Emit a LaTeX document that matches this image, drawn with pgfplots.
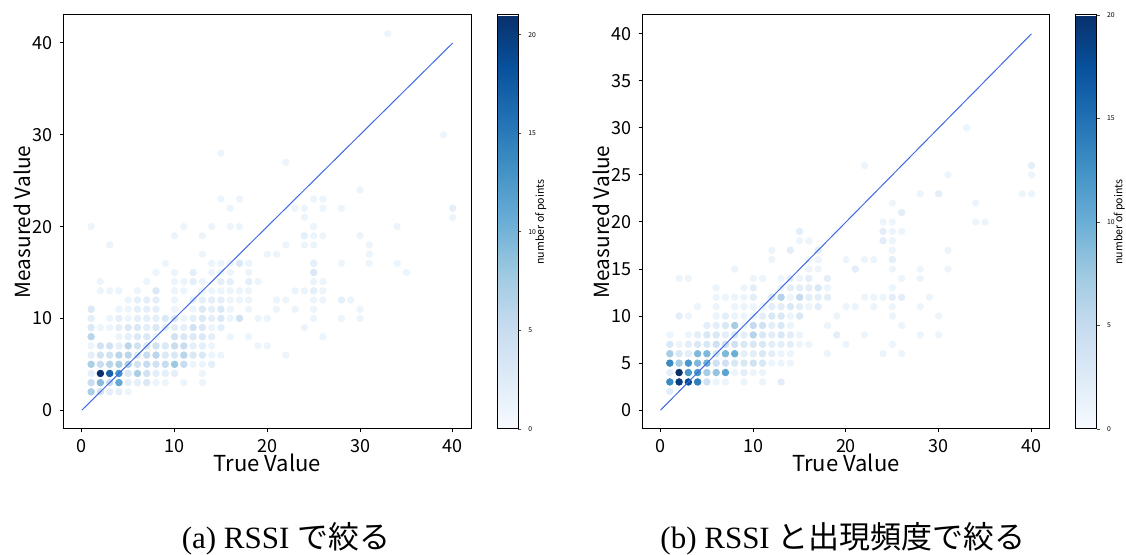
\documentclass[border=0pt]{standalone}
\usepackage{fontspec}
\setmainfont{Liberation Serif}
\newfontfamily\jpsans{Noto Sans CJK JP}
\usepackage{pgfplots}
\usepackage{pgfplotstable}
\pgfplotsset{compat=1.18}

\definecolor{diag}{RGB}{65,105,225}

% matplotlib "Blues"
\pgfplotsset{
  colormap={mplblues}{rgb255=(247,251,255) rgb255=(222,235,247) rgb255=(198,219,239)
    rgb255=(158,202,225) rgb255=(107,174,214) rgb255=(66,146,198) rgb255=(33,113,181)
    rgb255=(8,81,156) rgb255=(8,48,107)},
  box/.style={
    scale only axis, width=204pt, height=207pt,
    anchor=south west,
    xmin=-2, xmax=42,
  },
  hist2d/.style={
    box,
    xtick={0,10,20,30,40},
    tick pos=left, tick align=outside,
    major tick length=1.75pt,
    every tick/.style={black, line width=0.5pt},
    axis line style={black, line width=0.5pt},
    ticklabel style={font=\jpsans\fontsize{9}{10}\selectfont},
    /pgf/number format/assume math mode=true,
    xlabel={True Value}, ylabel={Measured Value},
    every axis x label/.style={at={(axis description cs:0.5,0)}, anchor=center,
      yshift=-17pt, font=\jpsans\fontsize{11}{13}\selectfont},
    every axis y label/.style={at={(axis description cs:0,0.5)}, rotate=90,
      anchor=center, yshift=20.4pt, font=\jpsans\fontsize{10.4}{12}\selectfont},
    colormap name=mplblues,
    point meta min=0,
    colorbar,
    colorbar shift/.style={xshift=13pt},
    colorbar style={
      at={(parent axis.north east)}, anchor=north west,
      scale only axis, width=10.5pt, height=207pt,
      ytick={0,5,10,15,20},
      ytick pos=right, yticklabel pos=right,
      tick align=outside, major tick length=1.5pt,
      every tick/.style={black!70, line width=0.4pt},
      axis line style={black, line width=0.5pt},
      yticklabel style={font=\jpsans\fontsize{3.4}{4}\selectfont},
      /pgf/number format/assume math mode=true,
      ylabel={number of points},
      every axis y label/.style={at={(axis description cs:1,0.5)}, rotate=90,
        anchor=center, yshift=-11.2pt, font=\jpsans\fontsize{5.3}{6}\selectfont},
    },
  },
  cnt/.style={scatter, only marks, mark=*, mark size=1.65pt, point meta=explicit,
    scatter/use mapped color={draw=mapped color, fill=mapped color}},
}

% (a) x y count
\pgfplotstableread{
x y c
1 2 7
2 2 4
3 2 2
4 2 2
5 2 1
1 3 5
2 3 9
3 3 5
4 3 11
5 3 2
6 3 2
7 3 3
8 3 1
9 3 1
11 3 1
13 3 1
1 4 2
2 4 21
3 4 17
4 4 13
5 4 3
6 4 7
7 4 4
8 4 2
9 4 2
10 4 2
13 4 1
1 5 7
2 5 5
3 5 6
4 5 7
5 5 7
6 5 4
7 5 5
8 5 4
9 5 5
10 5 8
11 5 5
12 5 1
13 5 1
14 5 2
1 6 2
2 6 4
3 6 4
4 6 6
5 6 6
6 6 3
7 6 5
8 6 6
9 6 3
10 6 3
11 6 6
12 6 3
13 6 3
14 6 1
15 6 1
22 6 1
1 7 1
2 7 4
3 7 4
4 7 2
5 7 6
6 7 4
7 7 3
8 7 4
9 7 3
10 7 5
11 7 5
12 7 2
13 7 2
14 7 1
19 7 1
20 7 1
1 8 6
4 8 1
5 8 2
6 8 3
7 8 3
8 8 1
10 8 4
11 8 3
12 8 3
13 8 3
14 8 2
16 8 1
18 8 1
26 8 1
1 9 3
2 9 1
3 9 1
4 9 2
5 9 3
6 9 3
7 9 2
8 9 3
9 9 2
10 9 2
11 9 2
12 9 4
13 9 3
14 9 1
15 9 2
24 9 1
1 10 2
3 10 1
4 10 2
5 10 1
6 10 2
7 10 2
8 10 2
9 10 3
10 10 3
11 10 1
12 10 2
13 10 3
14 10 2
15 10 3
16 10 1
17 10 4
19 10 1
20 10 1
25 10 1
28 10 1
30 10 1
1 11 3
4 11 1
5 11 1
6 11 2
7 11 2
8 11 2
10 11 1
12 11 1
13 11 3
14 11 2
15 11 3
16 11 1
18 11 1
21 11 1
23 11 1
25 11 1
30 11 1
5 12 1
6 12 2
7 12 2
8 12 2
10 12 1
12 12 2
13 12 2
14 12 2
15 12 2
16 12 1
17 12 1
18 12 1
21 12 1
22 12 1
25 12 1
26 12 1
28 12 2
29 12 1
2 13 1
3 13 1
4 13 1
6 13 1
8 13 3
10 13 1
11 13 1
13 13 1
14 13 1
15 13 1
16 13 1
17 13 1
18 13 1
23 13 1
24 13 1
25 13 2
26 13 1
2 14 1
7 14 1
10 14 1
11 14 1
12 14 2
13 14 1
15 14 2
16 14 2
18 14 2
19 14 1
25 14 1
26 14 1
8 15 1
10 15 1
12 15 2
14 15 1
15 15 1
16 15 1
18 15 1
25 15 3
35 15 1
9 16 1
14 16 1
15 16 1
16 16 1
17 16 3
18 16 1
25 16 2
28 16 1
31 16 1
34 16 1
13 17 1
20 17 1
21 17 1
31 17 1
3 18 1
22 18 1
24 18 1
25 18 1
31 18 1
10 19 1
13 19 1
24 19 2
25 19 1
26 19 1
30 19 1
1 20 1
11 20 1
14 20 1
16 20 1
17 20 1
25 20 1
34 20 1
24 21 1
40 21 1
16 22 1
23 22 1
24 22 1
26 22 1
28 22 1
40 22 2
15 23 1
17 23 1
25 23 1
26 23 1
30 24 1
22 27 1
15 28 1
39 30 1
33 41 1
}\histA

% (b) x y count
\pgfplotstableread{
x y c
1 2 2
1 3 13
2 3 19
3 3 18
4 3 14
5 3 4
6 3 1
7 3 1
9 3 1
11 3 1
13 3 2
1 4 2
2 4 20
3 4 12
4 4 12
5 4 7
6 4 8
7 4 11
8 4 1
9 4 2
10 4 1
11 4 1
1 5 13
2 5 7
3 5 12
4 5 9
5 5 10
6 5 4
7 5 4
8 5 3
9 5 3
10 5 4
11 5 3
12 5 1
13 5 1
14 5 1
1 6 7
2 6 3
3 6 2
4 6 9
5 6 9
6 6 3
7 6 9
8 6 10
9 6 2
10 6 2
11 6 3
12 6 2
13 6 1
14 6 1
18 6 1
24 6 1
26 6 1
1 7 3
2 7 1
3 7 2
4 7 3
5 7 3
6 7 4
7 7 4
8 7 4
9 7 3
10 7 3
11 7 3
12 7 2
13 7 2
14 7 2
15 7 1
16 7 1
20 7 1
25 7 1
1 8 1
3 8 1
4 8 2
5 8 3
6 8 3
7 8 2
8 8 3
9 8 2
10 8 6
11 8 3
12 8 2
13 8 3
14 8 2
15 8 1
19 8 2
22 8 1
28 8 1
30 8 1
5 9 2
6 9 2
7 9 3
8 9 7
9 9 1
10 9 5
11 9 4
12 9 2
13 9 3
14 9 1
18 9 1
26 9 1
2 10 2
3 10 1
6 10 1
7 10 2
8 10 1
9 10 1
10 10 1
11 10 2
12 10 3
13 10 3
14 10 1
15 10 3
19 10 1
25 10 1
30 10 1
4 11 1
6 11 1
8 11 1
9 11 1
10 11 1
11 11 1
12 11 2
13 11 2
14 11 3
15 11 2
16 11 1
17 11 2
20 11 1
21 11 1
23 11 1
25 11 1
28 11 1
6 12 1
7 12 1
8 12 1
9 12 1
10 12 2
12 12 3
13 12 6
14 12 1
15 12 5
16 12 2
17 12 2
18 12 2
22 12 1
23 12 1
24 12 1
25 12 2
26 12 2
29 12 1
6 13 1
9 13 1
10 13 2
13 13 1
14 13 2
15 13 2
16 13 2
17 13 3
18 13 1
25 13 1
2 14 1
3 14 1
10 14 1
11 14 1
13 14 1
14 14 2
15 14 1
16 14 2
18 14 2
26 14 1
28 14 1
8 15 1
16 15 1
17 15 1
21 15 2
25 15 1
28 15 1
31 15 1
12 16 1
16 16 1
17 16 1
20 16 1
22 16 1
23 16 1
25 16 2
12 17 1
14 17 2
17 17 2
25 17 1
31 17 1
15 18 1
16 18 1
24 18 2
25 18 1
15 19 2
24 19 2
25 19 1
26 19 1
24 20 1
25 20 1
34 20 1
35 20 1
26 21 2
25 22 1
34 22 1
28 23 1
30 23 2
39 23 1
40 23 1
31 25 1
40 25 1
22 26 1
40 26 2
33 30 1
}\histB

\begin{document}
\begin{tikzpicture}
\path[use as bounding box] (0,0) rectangle (563pt,277.5pt);

% (a)
\begin{axis}[hist2d, at={(31.65pt,63pt)},
  ymin=-2.05, ymax=43.05, ytick={0,10,20,30,40},
  point meta max=21]
  \addplot[cnt] table[x=x, y=y, meta=c] {\histA};
\end{axis}
% diagonal on top of the points
\begin{axis}[box, at={(31.65pt,63pt)}, ymin=-2.05, ymax=43.05, hide axis]
  \addplot[diag, line width=0.5pt] coordinates {(0,0) (40,40)};
\end{axis}

% (b)
\begin{axis}[hist2d, at={(321pt,63pt)},
  ymin=-2, ymax=42, ytick={0,5,10,15,20,25,30,35,40},
  point meta max=20]
  \addplot[cnt] table[x=x, y=y, meta=c] {\histB};
\end{axis}
\begin{axis}[box, at={(321pt,63pt)}, ymin=-2, ymax=42, hide axis]
  \addplot[diag, line width=0.5pt] coordinates {(0,0) (40,40)};
\end{axis}

% captions
\node[anchor=base, font=\fontsize{15.5}{18}\selectfont] at (143pt,3pt)
  {(a) RSSI {\jpsans で絞る}};
\node[anchor=base, font=\fontsize{15.5}{18}\selectfont] at (421.5pt,3pt)
  {(b) RSSI {\jpsans と出現頻度で絞る}};
\end{tikzpicture}
\end{document}
